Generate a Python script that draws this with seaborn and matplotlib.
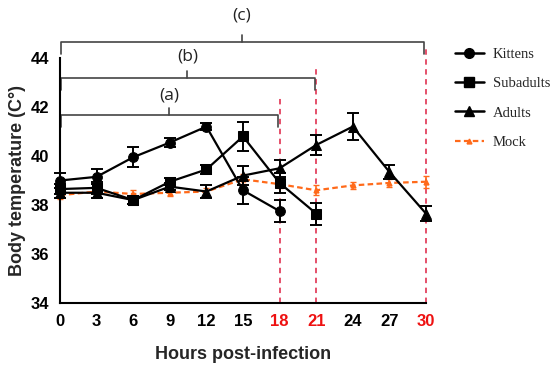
import numpy as np
import pandas as pd
import matplotlib
matplotlib.use("Agg")
import matplotlib.pyplot as plt
import seaborn as sns
from matplotlib.lines import Line2D

hours = [0, 3, 6, 9, 12, 15, 18, 21, 24, 27, 30]
kit_h = [0, 3, 6, 9, 12, 15, 18]
kittens = [39.0, 39.15, 39.95, 40.55, 41.2, 38.6, 37.75]
kittens_err = [0.3, 0.3, 0.4, 0.2, 0.15, 0.55, 0.45]
sub_h = [0, 3, 6, 9, 12, 15, 18, 21]
subadults = [38.65, 38.7, 38.2, 38.95, 39.45, 40.8, 38.9, 37.65]
subadults_err = [0.2, 0.25, 0.15, 0.15, 0.2, 0.6, 0.4, 0.45]
adults = [38.5, 38.5, 38.2, 38.75, 38.55, 39.2, 39.5, 40.45, 41.2, 39.35, 37.65]
adults_err = [0.2, 0.2, 0.15, 0.15, 0.25, 0.4, 0.35, 0.4, 0.55, 0.3, 0.3]
mock = [38.4, 38.55, 38.45, 38.5, 38.55, 39.05, 38.85, 38.6, 38.8, 38.9, 38.95]
mock_err = [0.15, 0.15, 0.15, 0.15, 0.15, 0.2, 0.15, 0.2, 0.15, 0.15, 0.25]
xticks = [0, 3, 6, 9, 12, 15, 18, 21, 24, 27, 30]
yticks = [34, 36, 38, 40, 42, 44]
red_ticks = [18, 21, 30]
vline_x = [18, 21, 30]
vline_top = [42.5, 43.6, 44.45]
brackets = [("(a)", 17.9, 41.67, 42.45), ("(b)", 20.9, 43.18, 44.05), ("(c)", 29.8, 44.65, 45.75)]

df = pd.concat([
    pd.DataFrame({"h": kit_h, "t": kittens, "g": "Kittens"}),
    pd.DataFrame({"h": sub_h, "t": subadults, "g": "Subadults"}),
    pd.DataFrame({"h": hours, "t": adults, "g": "Adults"}),
])

sns.set_style("white")
plt.rcParams['font.family'] = ['Liberation Sans', 'DejaVu Sans']

fig = plt.figure(figsize=(5.5, 3.67), dpi=100)
ax = fig.add_axes([60/550, 1-303/367, (426-60)/550, (303-58)/367])

red = "#e3425f"
orange = "#ff6a1a"
for x, top in zip(vline_x, vline_top):
    ax.plot([x, x], [34, top], color=red, ls=(0, (3, 2.5)), lw=1.3, clip_on=False, zorder=1)

# mock
ax.errorbar(hours, mock, yerr=mock_err, color=orange, ls=(0, (2.5, 1.5)), lw=1.6,
            marker="^", ms=3.5, capsize=2.5, elinewidth=1.2, clip_on=False, zorder=2)

sns.lineplot(data=df, x="h", y="t", hue="g", style="g",
             palette=["black"]*3, markers={"Kittens": "o", "Subadults": "s", "Adults": "^"},
             dashes=False, lw=1.6, ms=7, markeredgecolor="black", legend=False, ax=ax, zorder=3)
for line in ax.lines:
    line.set_clip_on(False)

for xs, ys, es in [(kit_h, kittens, kittens_err), (sub_h, subadults, subadults_err), (hours, adults, adults_err)]:
    ax.errorbar(xs, ys, yerr=es, fmt="none", ecolor="black", elinewidth=1.4, capsize=4, capthick=1.4,
                clip_on=False, zorder=3)

ax.set_xlim(0, 30)
ax.set_ylim(34, 44)
ax.set_xticks(xticks)
ax.set_yticks(yticks)
ax.set_xticklabels([str(x) for x in xticks], fontsize=12, fontweight="bold")
ax.set_yticklabels([str(y) for y in yticks], fontsize=12, fontweight="bold")
ax.tick_params(axis="both", direction="out", length=5, width=1.5, colors="black", pad=3)
for lab in ax.get_xticklabels():
    if lab.get_text() in [str(r) for r in red_ticks]:
        lab.set_color("#ee1111")
sns.despine(ax=ax)
for s in ["left", "bottom"]:
    ax.spines[s].set_linewidth(1.5)
    ax.spines[s].set_color("black")
ax.set_xlabel("Hours post-infection", fontsize=13, fontweight="bold", labelpad=12)
ax.set_ylabel("Body temperature (C°)", fontsize=13, fontweight="bold", labelpad=3)

# brackets
bc = "#444444"
for lab, xr, yb, yt in brackets:
    ax.plot([0.1, 0.1, xr, xr], [yb - 0.5, yb, yb, yb - 0.5], color=bc, lw=1.2, clip_on=False)
    xm = xr / 2
    ax.plot([xm, xm], [yb, yb + 0.3], color=bc, lw=1.2, clip_on=False)
    ax.text(xm, yt, lab, ha="center", va="center", fontsize=12.5, color="#222222",
            family=["Open Sans", "DejaVu Sans"], clip_on=False)

handles = [
    Line2D([], [], color="black", marker="o", ms=7, lw=1.8),
    Line2D([], [], color="black", marker="s", ms=7, lw=1.8),
    Line2D([], [], color="black", marker="^", ms=7, lw=1.8),
    Line2D([], [], color=orange, marker="^", ms=3.5, lw=1.6, ls=(0, (2.5, 1.5))),
]
fig.legend(handles, ["Kittens", "Subadults", "Adults", "Mock"], loc="upper left",
           bbox_to_anchor=(449/550, 1-42/367), frameon=False, handlelength=2.0,
           handletextpad=0.6, labelspacing=1.1, borderaxespad=0,
           prop={"family": "Liberation Serif", "size": 10.5})

fig.savefig("out.png", dpi=100)
